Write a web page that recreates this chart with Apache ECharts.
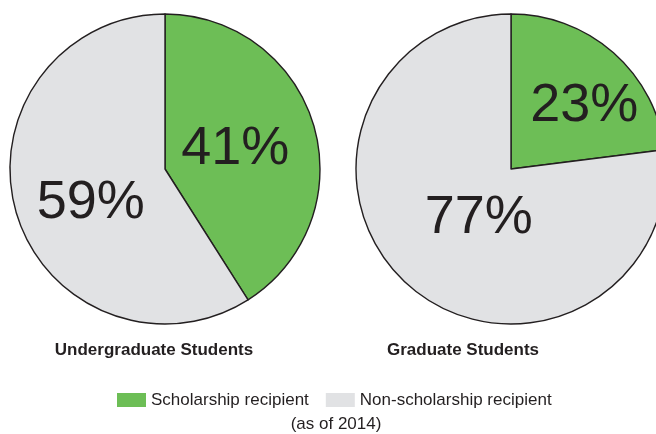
<!DOCTYPE html>
<html>
<head>
<meta charset="utf-8">
<style>
  html, body { margin: 0; padding: 0; background: #fff; }
  #chart { width: 656px; height: 434px; }
</style>
<script src="https://cdn.jsdelivr.net/npm/echarts@6/dist/echarts.min.js"></script>
</head>
<body>
<div id="chart"></div>
<script>
// data
var groups = ['Undergraduate Students', 'Graduate Students'];
var categories = ['Scholarship recipient', 'Non-scholarship recipient'];
var undergrad = [41, 59];
var graduate = [23, 77];
var note = '(as of 2014)';

var colors = ['#6dbe56', '#e1e2e4'];
var ink = '#231f20';
var font = '"Liberation Sans", Helvetica, Arial, sans-serif';

var chart = echarts.init(document.getElementById('chart'));

// label nudges so the numbers sit where the original has them
var nudges = [
    [[-7, 3], [3, 12]],
    [[20, -3], [21, -11]]
];

function pieData(values, g) {
    return values.map(function (v, i) {
        return {
            name: categories[i],
            value: v,
            itemStyle: { color: colors[i] },
            label: { offset: nudges[g][i] }
        };
    });
}

function pieSeries(values, g, center) {
    return {
        type: 'pie',
        name: groups[g],
        center: center,
        radius: 155,
        startAngle: 90,
        clockwise: true,
        silent: true,
        animation: false,
        itemStyle: { borderColor: ink, borderWidth: 1.4 },
        label: {
            show: true,
            position: 'inside',
            formatter: '{c}%',
            color: ink,
            fontFamily: font,
            fontSize: 54,
            fontWeight: 'normal'
        },
        labelLine: { show: false },
        emphasis: { disabled: true },
        data: pieData(values, g)
    };
}

var option = {
    backgroundColor: '#fff',
    title: [
        {
            text: groups[0], left: 154, top: 342, textAlign: 'center', padding: 0,
            textStyle: { fontFamily: font, fontSize: 17, fontWeight: 'bold', color: ink }
        },
        {
            text: groups[1], left: 463, top: 342, textAlign: 'center', padding: 0,
            textStyle: { fontFamily: font, fontSize: 17, fontWeight: 'bold', color: ink }
        },
        {
            text: note, left: 336, top: 416, textAlign: 'center', padding: 0,
            textStyle: { fontFamily: font, fontSize: 17, fontWeight: 'normal', color: ink }
        }
    ],
    legend: {
        data: categories,
        left: 117,
        top: 391,
        padding: 0,
        itemWidth: 29,
        itemHeight: 14,
        itemGap: 17,
        icon: 'rect',
        selectedMode: false,
        itemStyle: { borderWidth: 0 },
        textStyle: { fontFamily: font, fontSize: 17, color: ink, lineHeight: 18, padding: [0, 0, 0, 0] }
    },
    series: [
        pieSeries(undergrad, 0, [165, 169]),
        pieSeries(graduate, 1, [511, 169])
    ]
};

chart.setOption(option);
</script>
</body>
</html>
